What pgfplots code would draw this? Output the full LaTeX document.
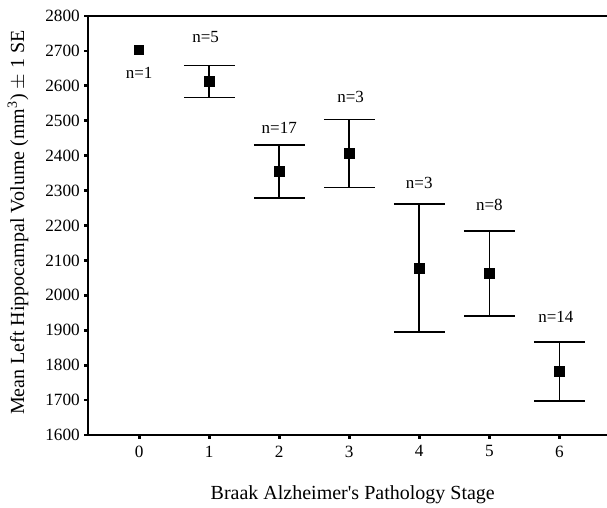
\documentclass[border=0pt]{standalone}
\usepackage{fontspec}
\setmainfont{Liberation Serif}
\usepackage{pgfplots}
\pgfplotsset{compat=1.18}

\pgfplotstableread{
x y e
1 2612 46
2 2355 76
3 2406 97
4 2078 183
5 2063 122
6 1782 84
}\stages

\begin{document}
\begin{tikzpicture}
\useasboundingbox (-44pt,-36.5pt) rectangle (259.5pt,217.5pt);
\begin{axis}[
  scale only axis, width=259.5pt, height=209.5pt,
  xmin=-0.73, xmax=6.68, ymin=1600, ymax=2800,
  axis x line=bottom, axis y line=left, axis line style={-, line width=0.9pt},
  xtick={0,...,6}, ytick={1600,1700,...,2800},
  tick align=outside, major tick length=1.8pt,
  tick style={line width=1.4pt, black},
  /pgf/number format/assume math mode=true,
  /pgf/number format/1000 sep={},
  tick label style={font=\fontsize{8.6}{10}\selectfont},
  yticklabel style={xshift=1.2pt},
  xlabel={Braak Alzheimer\textquotesingle s Pathology Stage},
  xlabel style={font=\fontsize{10}{12}\selectfont, at={(axis cs:3.05,1600)}, anchor=center, yshift=-30pt},
  ylabel={Mean Left Hippocampal Volume (mm\textsuperscript{3}) $\pm$ 1 SE},
  ylabel style={font=\fontsize{10}{12}\selectfont, at={(axis description cs:0,0.507)}, anchor=center, yshift=35pt},
]
\draw[line width=0.9pt] (rel axis cs:0,1) -- (rel axis cs:1,1);
\addplot[only marks, mark=square*, mark size=2.3pt, black] coordinates {(0,2703)};
\addplot[only marks, mark=square*, mark size=2.5pt, black,
  error bars/.cd, y dir=both, y explicit, error mark=|,
  error bar style={line width=0.8pt, black},
  error mark options={black, line width=0.8pt, mark size=12.7pt}]
  table[x=x, y=y, y error=e] {\stages};
\begin{scope}[font=\fontsize{8.5}{10}\selectfont]
\node at (axis cs:0,2636) {n=1};
\node at (axis cs:0.95,2741) {n=5};
\node at (axis cs:2,2479) {n=17};
\node at (axis cs:3.02,2569) {n=3};
\node at (axis cs:4,2322) {n=3};
\node at (axis cs:5,2259) {n=8};
\node at (axis cs:5.95,1937) {n=14};
\end{scope}
\end{axis}
\end{tikzpicture}
\end{document}
